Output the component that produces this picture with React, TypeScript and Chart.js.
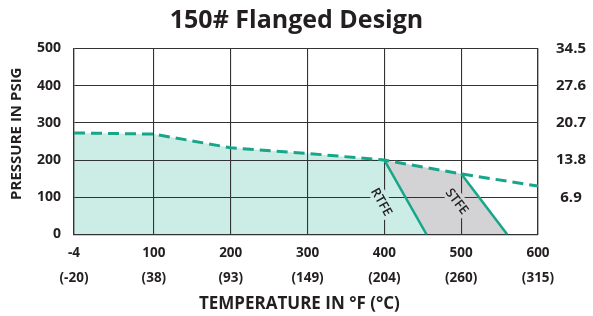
import React, { useEffect, useRef } from "react";
import { Chart, registerables } from "chart.js";

Chart.register(...registerables);

// ---- data ----
const tempF = [-4, 100, 200, 300, 400, 500, 600];
const tempFLabels = ["-4", "100", "200", "300", "400", "500", "600"];
const tempCLabels = ["(-20)", "(38)", "(93)", "(149)", "(204)", "(260)", "(315)"];
const ratingPsig = [273, 270, 233, 218, 200, 163, 130];
const rtfeTempF = [400, 455];
const rtfePsig = [200, 0];
const stfeTempF = [500, 560];
const stfePsig = [163, 0];
const psigTicks = [0, 100, 200, 300, 400, 500];
const barTicks = [6.9, 13.8, 20.7, 27.6, 34.5];
const seatNames = ["RTFE", "STFE"];
const seatLabelTempF = [397, 495];
const seatLabelPsig = [88, 90];

const FONT = "'Open Sans', 'DejaVu Sans', sans-serif";
const TEAL = "#17a689";
const TEAL_FILL = "#cbede5";
const GREY_FILL = "#d3d3d5";
const GRID = "#333333";
const TEXT = "#231f20";

const pts = (xs: number[], ys: number[]) => xs.map((x, i) => ({ x, y: ys[i] }));

export default function App() {
  const ref = useRef<HTMLCanvasElement | null>(null);

  useEffect(() => {
    if (!ref.current) return;
    const rating = pts(tempF, ratingPsig);
    const rtfe = pts(rtfeTempF, rtfePsig);
    const stfe = pts(stfeTempF, stfePsig);
    const tealFill = [...rating.filter((p) => p.x < rtfeTempF[0]), ...rtfe];
    const greyFill = [
      ...rtfe.slice(0, 1),
      ...rating.filter((p) => p.x > rtfeTempF[0] && p.x < stfeTempF[0]),
      ...stfe,
    ];
    const lines = [rtfe, stfe];
    const fills = [TEAL_FILL, GREY_FILL];

    const labelPlugin = {
      id: "seatLabels",
      afterDatasetsDraw(chart: any) {
        const { ctx, scales } = chart;
        const x = scales.x;
        const y = scales.y;
        seatNames.forEach((name, i) => {
          const ln = lines[i];
          const dx = x.getPixelForValue(ln[1].x) - x.getPixelForValue(ln[0].x);
          const dy = y.getPixelForValue(ln[1].y) - y.getPixelForValue(ln[0].y);
          const ang = Math.atan2(dy, dx);
          const px = x.getPixelForValue(seatLabelTempF[i]);
          const py = y.getPixelForValue(seatLabelPsig[i]);
          ctx.save();
          ctx.translate(px, py);
          ctx.rotate(ang);
          ctx.font = `600 13px ${FONT}`;
          const w = ctx.measureText(name).width;
          ctx.fillStyle = fills[i];
          ctx.fillRect(-w / 2 - 2, -8, w + 4, 16);
          ctx.fillStyle = TEXT;
          ctx.textAlign = "center";
          ctx.textBaseline = "middle";
          ctx.fillText(name, 0, 1);
          ctx.restore();
        });
      },
    };

    const chart = new Chart(ref.current, {
      type: "line",
      data: {
        datasets: [
          {
            data: tealFill,
            borderColor: "transparent",
            borderWidth: 0,
            backgroundColor: TEAL_FILL,
            fill: "origin",
            pointRadius: 0,
          },
          {
            data: greyFill,
            borderColor: "transparent",
            borderWidth: 0,
            backgroundColor: GREY_FILL,
            fill: "origin",
            pointRadius: 0,
          },
          {
            data: rating,
            borderColor: TEAL,
            borderWidth: 3,
            borderDash: [11, 6],
            fill: false,
            pointRadius: 0,
          },
          {
            data: rtfe,
            borderColor: TEAL,
            borderWidth: 2.5,
            fill: false,
            pointRadius: 0,
          },
          {
            data: stfe,
            borderColor: TEAL,
            borderWidth: 2.5,
            fill: false,
            pointRadius: 0,
          },
        ],
      },
      options: {
        responsive: false,
        animation: false,
        events: [],
        layout: { padding: 0 },
        plugins: {
          legend: { display: false },
          tooltip: { enabled: false },
          filler: { drawTime: "beforeDraw" },
          title: {
            display: true,
            text: "150# Flanged Design",
            color: TEXT,
            font: { family: FONT, size: 25, weight: "bold", lineHeight: 1.2 },
            padding: { top: 6, bottom: 12.5 },
          },
        },
        scales: {
          x: {
            type: "linear",
            min: -4,
            max: 600,
            afterBuildTicks: (s: any) => {
              s.ticks = tempF.map((v) => ({ value: v }));
            },
            afterFit: (s: any) => {
              s.height = 81.5;
            },
            ticks: {
              autoSkip: false,
              maxRotation: 0,
              padding: 6.6,
              color: TEXT,
              font: { family: FONT, size: 13.5, weight: "bold", lineHeight: 1.81 },
              callback: (_v: any, i: number) => [tempFLabels[i], tempCLabels[i]],
            },
            grid: { color: GRID, lineWidth: 1.1, drawTicks: false },
            border: { display: true, color: GRID, width: 1.3 },
            title: {
              display: true,
              text: "TEMPERATURE IN °F (°C)   ",
              color: TEXT,
              font: { family: FONT, size: 17, weight: "bold", lineHeight: 1.2 },
              padding: { top: 0, bottom: 1.5 },
            },
          },
          y: {
            type: "linear",
            position: "left",
            min: 0,
            max: 500,
            afterBuildTicks: (s: any) => {
              s.ticks = psigTicks.map((v) => ({ value: v }));
            },
            afterFit: (s: any) => {
              s.width = 74;
            },
            ticks: {
              padding: 13,
              color: TEXT,
              font: { family: FONT, size: 14, weight: "bold" },
              callback: (v: any) => String(v),
            },
            grid: { color: GRID, lineWidth: 1.1, drawTicks: false },
            border: { display: true, color: GRID, width: 1.3 },
            title: {
              display: true,
              text: "    PRESSURE IN PSIG",
              color: TEXT,
              font: { family: FONT, size: 15, weight: "bold", lineHeight: 1.2 },
              padding: { top: 7.5, bottom: 0 },
            },
          },
          y2: {
            type: "linear",
            position: "right",
            min: 0,
            max: 34.5,
            afterBuildTicks: (s: any) => {
              s.ticks = barTicks.map((v) => ({ value: v }));
            },
            afterFit: (s: any) => {
              s.width = 55;
            },
            ticks: {
              padding: 18,
              crossAlign: "center",
              color: TEXT,
              font: { family: FONT, size: 15, weight: "bold" },
              callback: (v: any) => Number(v).toFixed(1),
            },
            grid: { display: false, drawTicks: false },
            border: { display: true, color: GRID, width: 1.3 },
          },
        },
      },
      plugins: [labelPlugin],
    } as any);

    return () => chart.destroy();
  }, []);

  return (
    <div style={{ position: "fixed", left: 0, top: 0, width: 593, height: 316, background: "#fff" }}>
      <canvas ref={ref} width={593} height={316} style={{ display: "block", width: 593, height: 316 }} />
    </div>
  );
}
